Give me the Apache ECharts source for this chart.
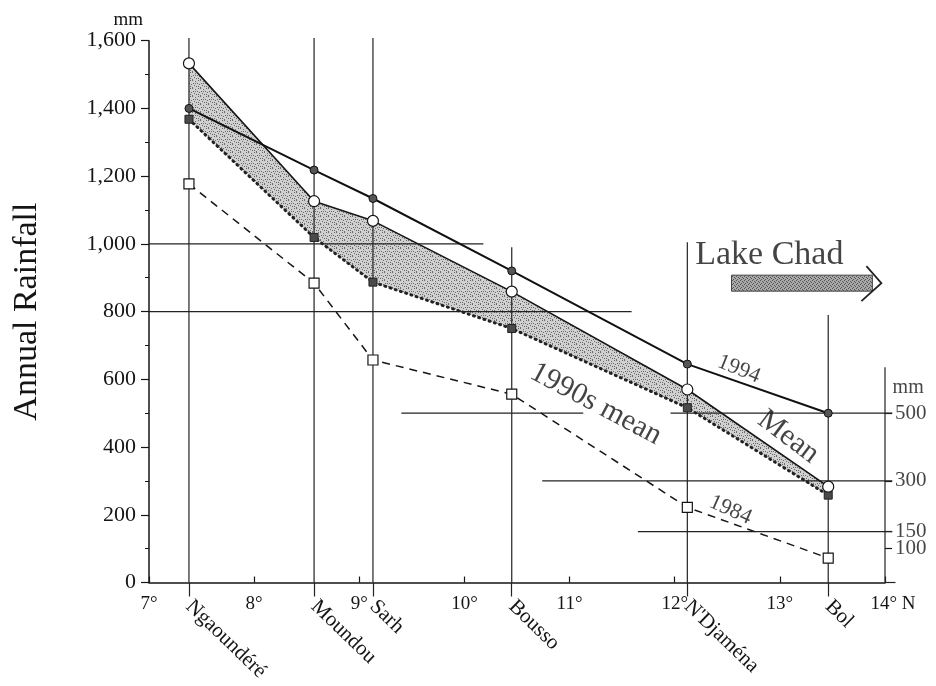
<!DOCTYPE html>
<html><head><meta charset="utf-8">
<script src="https://cdn.jsdelivr.net/npm/echarts@6/dist/echarts.min.js"></script>
<style>html,body{margin:0;padding:0;background:#fff}#c{width:936px;height:686px}</style>
</head><body><div id="c"></div>
<script>
// ---- data ----
const stations = ['Ngaoundéré', 'Moundou', 'Sarh', 'Bousso', "N'Djaména", 'Bol'];
const latitudes = [7.38, 8.57, 9.13, 10.45, 12.12, 13.46];
const meanRain = [1533, 1126, 1068, 859, 570, 283];
const nineties = [1368, 1019, 887, 750, 516, 258];
const rain1994 = [1400, 1218, 1134, 920, 645, 500];
const rain1984 = [1177, 884, 657, 556, 222, 72];
const degreeTicks = [7, 8, 9, 10, 11, 12, 13, 14];
const rightTicks = [100, 150, 300, 500];
const rightAxisLat = 14;
const stationLineTop = [1608, 1608, 1608, 990, 1005, 790];
// reference lines: [lat1, value1, lat2, value2]
const refLines = [
  [7, 1000, 10.18, 1000],
  [7, 800, 11.59, 800],
  [9.4, 500, 11.13, 500],
  [11.96, 500, 14.07, 500],
  [10.74, 300, 14.07, 300],
  [11.65, 150, 14.07, 150],
  [14, 0, 14, 636],
  [14, 0, 14.1, 0]
];
const lakeArrow = [[12.54, 13.88, 884]];

const SERIF = '"Liberation Serif", "Times New Roman", serif';
const INK = '#151515';

function makePattern(base, dots, dotColor, size) {
  const c = document.createElement('canvas');
  c.width = size; c.height = size;
  const g = c.getContext('2d');
  g.fillStyle = base; g.fillRect(0, 0, size, size);
  g.fillStyle = dotColor;
  dots.forEach(d => g.fillRect(d[0], d[1], 1, 1));
  return c;
}
const bandCanvas = makePattern('#d0d0d0',
  [[0,0],[3,1],[6,0],[1,3],[5,3],[7,4],[2,5],[4,6],[0,7],[6,6],[3,3]], '#6a6a6a', 8);
const arrowCanvas = makePattern('#a8a8a8',
  [[0,0],[2,1],[1,3],[3,2]], '#555', 4);

const chart = echarts.init(document.getElementById('c'), null, {renderer: 'canvas'});

function lineSeg(params, api) {
  const p1 = api.coord([api.value(0), api.value(1)]);
  const p2 = api.coord([api.value(2), api.value(3)]);
  return {type: 'line', shape: {x1: p1[0], y1: p1[1], x2: p2[0], y2: p2[1]},
    style: {stroke: '#222', lineWidth: 1.2}};
}

const annotations = [
  {text: '1990s mean', x: 11.25, y: 527, rotate: -28, size: 30},
  {text: 'Mean', x: 13.08, y: 430, rotate: -37, size: 30},
  {text: '1994', x: 12.61, y: 630, rotate: -22, size: 22},
  {text: '1984', x: 12.53, y: 214, rotate: -24, size: 22},
  {text: 'Lake Chad', x: 12.9, y: 967, rotate: 0, size: 34},
  {text: 'mm', x: 14.22, y: 574, rotate: 0, size: 20}
];

const option = {
  animation: false,
  backgroundColor: '#fff',
  textStyle: {fontFamily: SERIF, color: INK},
  grid: {left: 149, right: 51, top: 40.7, bottom: 103.5, containLabel: false},
  xAxis: [
    {
      type: 'value', min: 7, max: 14, interval: 1,
      axisLine: {lineStyle: {color: INK, width: 1.5}},
      axisTick: {inside: true, length: 6, lineStyle: {color: INK, width: 1.2}},
      splitLine: {show: false},
      axisLabel: {
        margin: 12, fontSize: 19, fontFamily: SERIF, color: INK,
        formatter: v => v === 14 ? '{p|}14° N' : v + '°',
        rich: {p: {width: 16}}
      }
    },
    {
      type: 'value', min: 7, max: 14, position: 'bottom',
      axisLine: {show: false},
      splitLine: {show: false},
      axisTick: {show: true, customValues: latitudes, length: 14, lineStyle: {color: '#222', width: 1.2}},
      axisLabel: {
        customValues: latitudes, rotate: -44, margin: 21, fontSize: 21, fontFamily: SERIF, color: INK,
        hideOverlap: false,
        formatter: v => {
          const i = latitudes.findIndex(l => Math.abs(l - v) < 1e-6);
          return i >= 0 ? stations[i] : '';
        }
      }
    }
  ],
  yAxis: [
    {
      type: 'value', min: 0, max: 1600, interval: 200, position: 'left',
      name: 'mm', nameLocation: 'end', nameGap: 6,
      nameTextStyle: {fontSize: 19, fontFamily: SERIF, color: INK, align: 'right', padding: [0, 6, 0, 0]},
      axisLine: {show: true, lineStyle: {color: INK, width: 1.5}},
      axisTick: {show: true, length: 8, lineStyle: {color: INK, width: 1.2}},
      minorTick: {show: true, splitNumber: 2, length: 4, lineStyle: {color: INK, width: 1}},
      splitLine: {show: false},
      axisLabel: {margin: 13, fontSize: 22, fontFamily: SERIF, color: INK,
        formatter: v => v.toLocaleString('en-US')}
    },
    {
      type: 'value', min: 0, max: 1600, position: 'right',
      axisLine: {show: false},
      splitLine: {show: false},
      axisTick: {show: true, customValues: rightTicks, length: 7, lineStyle: {color: INK, width: 1.2}},
      axisLabel: {show: false}
    },
    {
      type: 'value', min: 0, max: 1600, position: 'left',
      axisLine: {show: false}, axisTick: {show: false}, axisLabel: {show: false}, splitLine: {show: false},
      name: 'Annual Rainfall', nameLocation: 'middle', nameRotate: 90, nameGap: 105,
      nameTextStyle: {fontSize: 34, fontFamily: SERIF, color: INK}
    }
  ],
  series: [
    {
      type: 'custom', name: 'band', xAxisIndex: 0, yAxisIndex: 0, z: 1, silent: true,
      data: latitudes.map((x, i) => [x, meanRain[i], nineties[i]]),
      encode: {x: 0, y: [1, 2]},
      renderItem: (params, api) => {
        if (params.dataIndex !== 0) return null;
        const pts = [];
        for (let j = 0; j < latitudes.length; j++) pts.push(api.coord([latitudes[j], meanRain[j]]));
        for (let j = latitudes.length - 1; j >= 0; j--) pts.push(api.coord([latitudes[j], nineties[j]]));
        return {type: 'polygon', shape: {points: pts},
          style: {fill: {image: bandCanvas, repeat: 'repeat'}, stroke: null}};
      }
    },
    {
      type: 'custom', name: 'refLines', xAxisIndex: 0, yAxisIndex: 0, z: 2, silent: true,
      data: refLines, encode: {x: [0, 2], y: [1, 3]}, renderItem: lineSeg
    },
    {
      type: 'custom', name: 'stationLines', xAxisIndex: 0, yAxisIndex: 0, z: 2, silent: true,
      data: latitudes.map((x, i) => [x, 0, x, stationLineTop[i]]),
      encode: {x: [0, 2], y: [1, 3]}, renderItem: lineSeg
    },
    {
      type: 'custom', name: 'lakeArrow', xAxisIndex: 0, yAxisIndex: 0, z: 3, silent: true,
      data: lakeArrow, encode: {x: [0, 1], y: 2},
      renderItem: (params, api) => {
        const a = api.coord([api.value(0), api.value(2)]);
        const b = api.coord([api.value(1), api.value(2)]);
        const cy = a[1];
        return {type: 'group', children: [
          {type: 'rect', shape: {x: a[0], y: cy - 8, width: b[0] - a[0], height: 16},
            style: {fill: {image: arrowCanvas, repeat: 'repeat'}, stroke: '#444', lineWidth: 1}},
          {type: 'polyline', shape: {points: [[b[0] - 6, cy - 17], [b[0] + 9, cy], [b[0] - 11, cy + 18]]},
            style: {stroke: '#222', lineWidth: 1.8, fill: null}}
        ]};
      }
    },
    {
      type: 'line', name: '1990s mean', xAxisIndex: 0, yAxisIndex: 0, z: 4,
      data: latitudes.map((x, i) => [x, nineties[i]]),
      symbol: 'rect', symbolSize: 8,
      itemStyle: {color: '#4a4a4a', borderColor: '#222', borderWidth: 1},
      lineStyle: {color: '#222', width: 3, type: [1, 4.5], cap: 'round'}
    },
    {
      type: 'line', name: '1984', xAxisIndex: 0, yAxisIndex: 0, z: 4,
      data: latitudes.map((x, i) => [x, rain1984[i]]),
      symbol: 'rect', symbolSize: 10,
      itemStyle: {color: '#fff', borderColor: INK, borderWidth: 1.2},
      lineStyle: {color: INK, width: 1.5, type: [8, 6]}
    },
    {
      type: 'line', name: 'Mean', xAxisIndex: 0, yAxisIndex: 0, z: 5,
      data: latitudes.map((x, i) => [x, meanRain[i]]),
      symbol: 'circle', symbolSize: 11,
      itemStyle: {color: '#fff', borderColor: INK, borderWidth: 1.2},
      lineStyle: {color: INK, width: 1.6}
    },
    {
      type: 'line', name: '1994', xAxisIndex: 0, yAxisIndex: 0, z: 6,
      data: latitudes.map((x, i) => [x, rain1994[i]]),
      symbol: 'circle', symbolSize: 8,
      itemStyle: {color: '#555', borderColor: '#111', borderWidth: 1},
      lineStyle: {color: '#111', width: 2}
    },
    {
      type: 'scatter', name: 'rightAxisLabels', xAxisIndex: 0, yAxisIndex: 0, z: 10, silent: true,
      clip: false, symbolSize: 0,
      data: rightTicks.map(v => [rightAxisLat, v]),
      label: {show: true, position: 'right', distance: 10, formatter: p => String(p.value[1]),
        fontSize: 21, fontFamily: SERIF, color: INK},
      labelLayout: {hideOverlap: false}
    },
    {
      type: 'scatter', name: 'annotations', xAxisIndex: 0, yAxisIndex: 0, z: 10, silent: true,
      clip: false, symbolSize: 0,
      data: annotations.map(a => ({
        value: [a.x, a.y],
        label: {show: true, position: 'inside', formatter: a.text, rotate: a.rotate,
          fontSize: a.size, fontFamily: SERIF, color: INK}
      }))
    }
  ]
};
chart.setOption(option);
</script>
</body></html>
